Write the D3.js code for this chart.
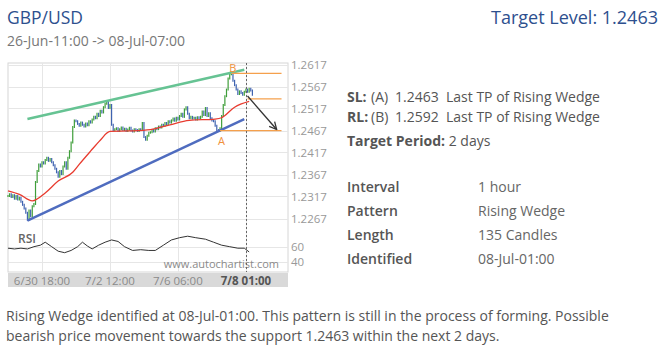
<!DOCTYPE html>
<html>
<head>
<meta charset="utf-8">
<script src="https://cdn.jsdelivr.net/npm/d3@7"></script>
<style>
  body { margin: 0; background: #fff; }
  svg { display: block; font-family: "Open Sans", sans-serif; }
</style>
</head>
<body>
<svg id="chart" width="665" height="352"></svg>
<script>
(function () {
  'use strict';

  // hourly closes, one per candle
  var closes = [
    1.2318, 1.2322, 1.2316, 1.2320, 1.2312, 1.2318, 1.2310, 1.2314,
    1.2305, 1.2298, 1.2290, 1.2280, 1.2264,
    1.2285, 1.2272, 1.2295, 1.2300,
    1.2350, 1.2375, 1.2390,
    1.2385, 1.2395, 1.2392, 1.2400, 1.2405, 1.2398, 1.2402,
    1.2395, 1.2388, 1.2380, 1.2372, 1.2362,
    1.2375, 1.2368, 1.2385, 1.2395, 1.2380, 1.2405, 1.2420,
    1.2440, 1.2475, 1.2490,
    1.2488, 1.2482, 1.2478, 1.2485, 1.2480, 1.2476, 1.2483, 1.2479, 1.2488,
    1.2485, 1.2492, 1.2498, 1.2495, 1.2505, 1.2500, 1.2512, 1.2508, 1.2520, 1.2528,
    1.2532, 1.2518, 1.2525,
    1.2480, 1.2468,
    1.2470, 1.2472, 1.2466, 1.2470, 1.2474, 1.2468, 1.2471, 1.2466, 1.2469,
    1.2473, 1.2467, 1.2465, 1.2470, 1.2468, 1.2466, 1.2470, 1.2468,
    1.2484, 1.2452, 1.2446, 1.2455, 1.2462,
    1.2463, 1.2468, 1.2465, 1.2472, 1.2470, 1.2476, 1.2474, 1.2480, 1.2478,
    1.2484, 1.2481, 1.2488, 1.2485, 1.2490, 1.2494, 1.2489, 1.2496, 1.2492,
    1.2500, 1.2505, 1.2498, 1.2515, 1.2520,
    1.2505, 1.2495, 1.2498, 1.2494, 1.2496, 1.2492, 1.2497, 1.2494, 1.2498,
    1.2510, 1.2502, 1.2518, 1.2500, 1.2506,
    1.2495, 1.2490, 1.2488, 1.2478, 1.2468, 1.2466,
    1.2472, 1.2500, 1.2525, 1.2545, 1.2560, 1.2585, 1.2595,
    1.2598, 1.2580, 1.2570, 1.2560, 1.2550, 1.2556, 1.2552, 1.2548, 1.2555,
    1.2560, 1.2555, 1.2562, 1.2558, 1.2548
  ];

  // moving average (candle index, price)
  var maIndex = [0, 7, 15, 23, 31, 40, 44, 51, 57, 63, 75, 88, 100, 112, 128, 132, 140, 149];
  var maValue = [1.2330, 1.2322, 1.2307, 1.2325, 1.2352, 1.2372, 1.2390, 1.2420, 1.2445,
                 1.2465, 1.2466, 1.2469, 1.2480, 1.2490, 1.2493, 1.2496, 1.2520, 1.2533];

  // RSI (candle index, value)
  var rsiIndex = [0, 4, 8, 12, 16, 20, 23, 27, 31, 35, 39, 43, 46, 49, 52, 56, 60, 64, 68,
                  72, 77, 82, 87, 91, 96, 101, 106, 111, 116, 122, 127, 132, 137, 142, 146, 149];
  var rsiValue = [58, 57, 58, 57, 60, 62, 66, 60, 54, 52, 55, 60, 66, 61, 57, 62, 66, 69, 67,
                  60, 55, 56, 55, 55, 62, 69, 72, 74, 72, 70, 66, 62, 60, 58, 58, 53];

  // pattern lines (candle index, price)
  var upperIndex = [12, 146];
  var upperValue = [1.2493, 1.2605];
  var lowerIndex = [12, 146];
  var lowerValue = [1.2262, 1.2493];

  var levelNames = ["B", "mid", "A"];
  var levelValue = [1.2597, 1.2539, 1.24665];
  var levelStart = [138, 148, 131];
  var levelEnd = 169;

  var arrowIndex = [148, 166];
  var arrowValue = [1.25454, 1.24693];

  var priceTicks = [1.2267, 1.2317, 1.2367, 1.2417, 1.2467, 1.2517, 1.2567, 1.2617];
  var rsiTicks = [60, 40];
  var timeTickIndex = [21, 63, 105, 147];
  var timeTickLabel = ["6/30 18:00", "7/2 12:00", "7/6 06:00", "7/8 01:00"];
  var identifiedIndex = 147;

  var infoLabels = ["Interval", "Pattern", "Length", "Identified"];
  var infoValues = ["1 hour", "Rising Wedge", "135 Candles", "08-Jul-01:00"];

  var plot = { left: 8, right: 288, top: 63, bottom: 272 };

  var svg = d3.select("#chart");

  var x = d3.scaleLinear().domain([0, 173]).range([plot.left, plot.right]);
  var y = d3.scaleLinear().domain([1.2267, 1.2617]).range([218.5, 64.5]);
  var yRsi = d3.scaleLinear().domain([40, 60]).range([261.7, 246.7]);

  drawHeader();
  drawFrame();
  drawCandles();
  drawOverlays();
  drawRsi();
  drawInfo();

  function drawHeader() {
    svg.append("text")
      .attr("x", 7).attr("y", 24)
      .style("font-size", "17.5px").style("fill", "#2d4f8e")
      .text("GBP/USD");
    svg.append("text")
      .attr("x", 658).attr("y", 24)
      .attr("text-anchor", "end")
      .style("font-size", "18px").style("fill", "#2d4f8e")
      .text("Target Level: 1.2463");
    svg.append("text")
      .attr("x", 7).attr("y", 46)
      .style("font-size", "14px").style("fill", "#777")
      .text("26-Jun-11:00 -> 08-Jul-07:00");
  }

  function drawFrame() {
    var g = svg.append("g");

    g.append("rect")
      .attr("x", plot.left).attr("y", plot.top)
      .attr("width", plot.right - plot.left).attr("height", plot.bottom - plot.top)
      .style("fill", "#fff").style("stroke", "#d6d6d6");

    // horizontal grid for price and rsi
    g.selectAll(".pgrid").data(priceTicks).enter().append("line")
      .attr("x1", plot.left).attr("x2", plot.right)
      .attr("y1", function (d) { return Math.round(y(d)) + 0.5; })
      .attr("y2", function (d) { return Math.round(y(d)) + 0.5; })
      .style("stroke", "#e6e6e6");
    g.selectAll(".rgrid").data(rsiTicks).enter().append("line")
      .attr("x1", plot.left).attr("x2", plot.right)
      .attr("y1", function (d) { return Math.round(yRsi(d)) + 0.5; })
      .attr("y2", function (d) { return Math.round(yRsi(d)) + 0.5; })
      .style("stroke", "#e6e6e6");

    // vertical grid
    g.selectAll(".vgrid").data(timeTickIndex).enter().append("line")
      .attr("y1", plot.top).attr("y2", plot.bottom)
      .attr("x1", function (d) { return Math.round(x(d)) + 0.5; })
      .attr("x2", function (d) { return Math.round(x(d)) + 0.5; })
      .style("stroke", "#e6e6e6");

    // price axis on the right
    var yAxis = d3.axisRight(y).tickValues(priceTicks).tickSize(0).tickPadding(3)
      .tickFormat(d3.format(".4f"));
    var ya = svg.append("g").attr("transform", "translate(" + plot.right + ",0)").call(yAxis);
    ya.select(".domain").remove();
    ya.selectAll("text").style("font-size", "11.5px").style("fill", "#999")
      .style("font-family", "Open Sans, sans-serif");

    var rAxis = d3.axisRight(yRsi).tickValues(rsiTicks).tickSize(0).tickPadding(3);
    var ra = svg.append("g").attr("transform", "translate(" + plot.right + ",0)").call(rAxis);
    ra.select(".domain").remove();
    ra.selectAll("text").style("font-size", "11.5px").style("fill", "#999")
      .style("font-family", "Open Sans, sans-serif");

    // time axis band
    svg.append("rect")
      .attr("x", plot.left).attr("y", plot.bottom + 1)
      .attr("width", plot.right - plot.left).attr("height", 14)
      .style("fill", "#d9d9d9");
    svg.selectAll(".tlabel").data(timeTickIndex).enter().append("text")
      .attr("x", function (d) { return x(d); })
      .attr("y", plot.bottom + 12.5)
      .attr("text-anchor", "middle")
      .style("font-size", "11.5px")
      .style("font-weight", function (d) { return d === identifiedIndex ? "bold" : "normal"; })
      .style("fill", function (d) { return d === identifiedIndex ? "#555" : "#8a8a8a"; })
      .text(function (d, i) { return timeTickLabel[i]; });

    svg.append("text")
      .attr("x", 279).attr("y", 267.5)
      .attr("text-anchor", "end")
      .style("font-size", "11px").style("fill", "#8a8a8a")
      .text("www.autochartist.com");
  }

  function drawCandles() {
    var g = svg.append("g");
    closes.forEach(function (c, i) {
      var open = i > 0 ? closes[i - 1] : c;
      var y1 = y(Math.max(open, c)) - 1;
      var y2 = y(Math.min(open, c)) + 1;
      g.append("line")
        .attr("x1", x(i)).attr("x2", x(i))
        .attr("y1", y1).attr("y2", y2)
        .style("stroke", c >= open ? "#3f9e3a" : "#3f63b0")
        .style("stroke-width", 1.2);
    });
  }

  function drawOverlays() {
    var line = d3.line()
      .x(function (d) { return x(d[0]); })
      .y(function (d) { return y(d[1]); });

    svg.append("path")
      .datum(d3.zip(maIndex, maValue))
      .attr("d", line.curve(d3.curveMonotoneX))
      .style("fill", "none").style("stroke", "#e83b2f").style("stroke-width", 1.3);

    line.curve(d3.curveLinear);

    svg.append("path")
      .datum(d3.zip(upperIndex, upperValue))
      .attr("d", line)
      .style("fill", "none").style("stroke", "#66c393").style("stroke-width", 2.5);
    svg.append("path")
      .datum(d3.zip(lowerIndex, lowerValue))
      .attr("d", line)
      .style("fill", "none").style("stroke", "#4f6cbf").style("stroke-width", 2.5);

    // orange levels
    svg.selectAll(".level").data(levelValue).enter().append("line")
      .attr("x1", function (d, i) { return x(levelStart[i]); })
      .attr("x2", x(levelEnd))
      .attr("y1", function (d) { return y(d); })
      .attr("y2", function (d) { return y(d); })
      .style("stroke", "#f5a04c").style("stroke-width", 1.3);

    svg.append("text")
      .attr("x", x(levelStart[0]) - 2).attr("y", y(levelValue[0]) - 1)
      .style("font-size", "11px").style("fill", "#f0913c")
      .text(levelNames[0]);
    svg.append("text")
      .attr("x", x(levelStart[2]) - 2).attr("y", y(levelValue[2]) + 14)
      .style("font-size", "11px").style("fill", "#f0913c")
      .text(levelNames[2]);

    // identification marker
    svg.append("line")
      .attr("x1", Math.round(x(identifiedIndex)) + 0.5).attr("x2", Math.round(x(identifiedIndex)) + 0.5)
      .attr("y1", plot.top).attr("y2", plot.bottom)
      .style("stroke", "#666").style("stroke-dasharray", "2,2");

    // projection arrow
    svg.append("defs").append("marker")
      .attr("id", "head")
      .attr("viewBox", "0 0 10 10")
      .attr("refX", 9).attr("refY", 5)
      .attr("markerWidth", 7).attr("markerHeight", 7)
      .attr("orient", "auto")
      .append("path")
      .attr("d", "M1,1 L9,5 L1,9")
      .style("fill", "none").style("stroke", "#333").style("stroke-width", 1.4);

    svg.append("line")
      .attr("x1", x(arrowIndex[0])).attr("y1", y(arrowValue[0]))
      .attr("x2", x(arrowIndex[1])).attr("y2", y(arrowValue[1]))
      .attr("marker-end", "url(#head)")
      .style("stroke", "#333").style("stroke-width", 1.3);
  }

  function drawRsi() {
    var line = d3.line()
      .x(function (d) { return x(d[0]); })
      .y(function (d) { return yRsi(d[1]); });

    svg.append("path")
      .datum(d3.zip(rsiIndex, rsiValue))
      .attr("d", line)
      .style("fill", "none").style("stroke", "#333").style("stroke-width", 1);

    svg.append("text")
      .attr("x", 18).attr("y", 243)
      .style("font-size", "12px").style("font-weight", "600").style("fill", "#666")
      .text("RSI");
  }

  function drawInfo() {
    var g = svg.append("g").style("font-size", "14px").style("fill", "#555");

    var sl = g.append("text").attr("y", 102);
    sl.append("tspan").attr("x", 347).style("font-weight", "bold").text("SL:");
    sl.append("tspan").attr("x", 371).text("(A)");
    sl.append("tspan").attr("x", 395).text("1.2463");
    sl.append("tspan").attr("x", 446).text("Last TP of Rising Wedge");

    var rl = g.append("text").attr("y", 122);
    rl.append("tspan").attr("x", 347).style("font-weight", "bold").text("RL:");
    rl.append("tspan").attr("x", 371).text("(B)");
    rl.append("tspan").attr("x", 395).text("1.2592");
    rl.append("tspan").attr("x", 446).text("Last TP of Rising Wedge");

    var tp = g.append("text").attr("x", 347).attr("y", 146);
    tp.append("tspan").style("font-weight", "bold").text("Target Period:");
    tp.append("tspan").text(" 2 days");

    g.selectAll(".ilabel").data(infoLabels).enter().append("text")
      .attr("x", 347)
      .attr("y", function (d, i) { return 192 + i * 24; })
      .style("font-weight", "600")
      .text(function (d) { return d; });
    g.selectAll(".ivalue").data(infoValues).enter().append("text")
      .attr("x", 478)
      .attr("y", function (d, i) { return 192 + i * 24; })
      .style("fill", "#666")
      .text(function (d) { return d; });

    var p = svg.append("g").style("font-size", "14px").style("fill", "#555");
    p.append("text").attr("x", 6).attr("y", 321)
      .text("Rising Wedge identified at 08-Jul-01:00. This pattern is still in the process of forming. Possible");
    p.append("text").attr("x", 6).attr("y", 341)
      .text("bearish price movement towards the support 1.2463 within the next 2 days.");
  }
})();
</script>
</body>
</html>
